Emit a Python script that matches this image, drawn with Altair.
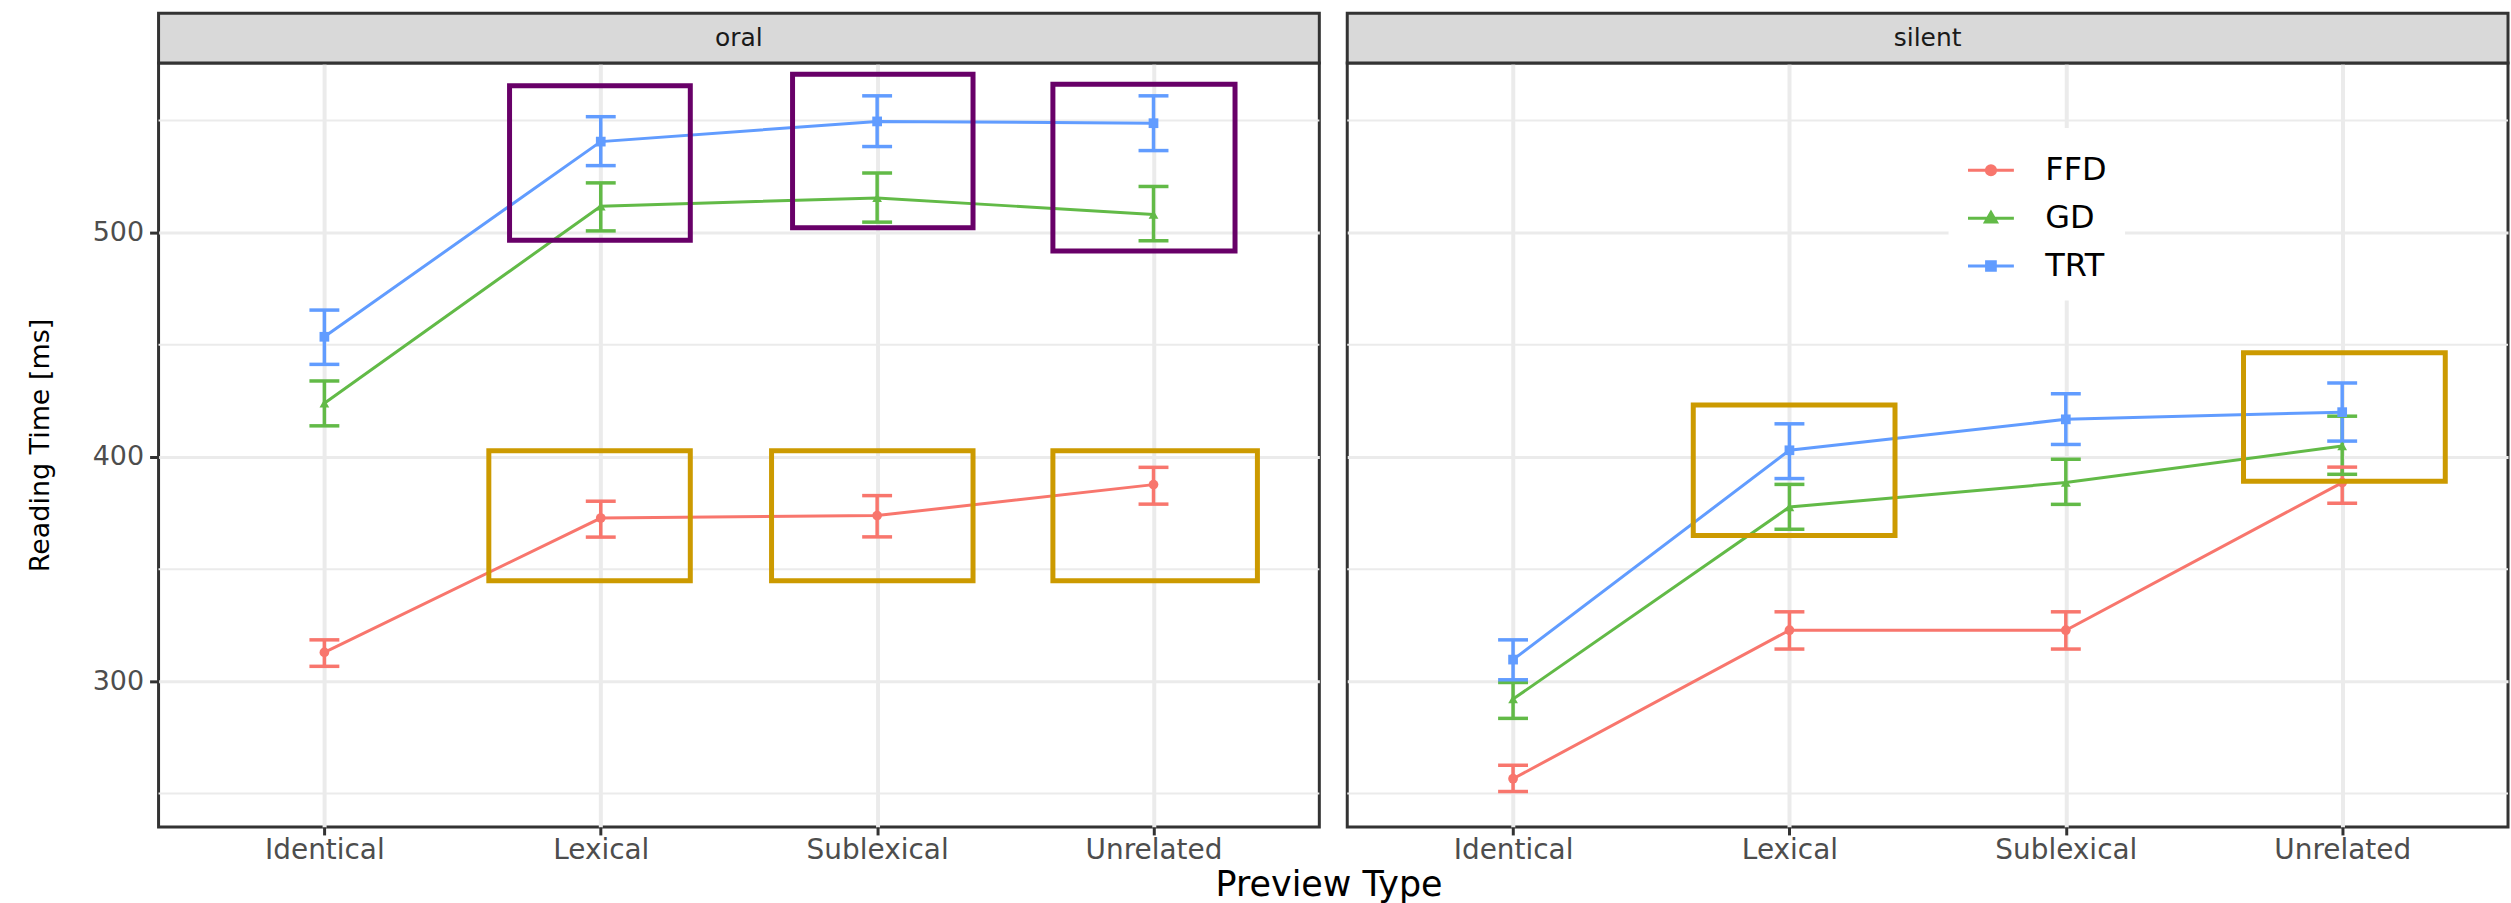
import altair as alt
import pandas as pd

FONT = "DejaVu Sans"

preview_types = ["Identical", "Lexical", "Sublexical", "Unrelated"]
panels = ["oral", "silent"]
series = ["FFD", "GD", "TRT"]
series_colors = ["#F8766D", "#62BA47", "#619CFF"]
series_shapes = ["circle", "triangle-up", "square"]

# values (ms), in order of preview_types
oral_ffd = [312.9, 372.8, 373.9, 387.7]
oral_ffd_lo = [306.7, 364.3, 364.4, 379.0]
oral_ffd_hi = [318.5, 380.3, 382.8, 395.4]
oral_gd = [424.0, 511.8, 515.5, 508.1]
oral_gd_lo = [413.9, 500.8, 504.7, 496.4]
oral_gd_hi = [433.9, 522.2, 526.6, 520.6]
oral_trt = [453.6, 540.6, 549.6, 548.8]
oral_trt_lo = [441.3, 529.9, 538.4, 536.6]
oral_trt_hi = [465.5, 551.7, 561.0, 561.0]

silent_ffd = [256.6, 322.8, 322.8, 388.6]
silent_ffd_lo = [250.9, 314.4, 314.4, 379.4]
silent_ffd_hi = [262.6, 331.0, 331.0, 395.5]
silent_gd = [292.1, 377.7, 388.6, 404.9]
silent_gd_lo = [283.5, 367.8, 378.9, 392.3]
silent_gd_hi = [299.5, 387.8, 399.0, 418.2]
silent_trt = [309.7, 403.0, 416.8, 420.0]
silent_trt_lo = [300.7, 390.4, 405.6, 407.1]
silent_trt_hi = [318.5, 414.8, 428.2, 433.0]

# highlight boxes (x in preview-type index units, y in ms)
box_panel = ["oral", "oral", "oral", "oral", "oral", "oral", "silent", "silent"]
box_group = ["A", "A", "A", "B", "B", "B", "B", "B"]
box_x1 = [0.67, 1.694, 2.636, 0.595, 1.618, 2.636, 0.652, 2.643]
box_x2 = [1.324, 2.347, 3.295, 1.324, 2.347, 3.376, 1.382, 3.373]
box_y1 = [496.6, 502.2, 491.8, 344.8, 344.8, 344.8, 365.0, 389.2]
box_y2 = [565.5, 570.6, 566.2, 402.8, 402.8, 402.8, 423.2, 446.5]
box_group_colors = {"A": "#680068", "B": "#CC9A00"}

y_major = [300, 400, 500]
y_minor = [250, 350, 450, 550]

values = {
    "oral": {"FFD": (oral_ffd, oral_ffd_lo, oral_ffd_hi),
             "GD": (oral_gd, oral_gd_lo, oral_gd_hi),
             "TRT": (oral_trt, oral_trt_lo, oral_trt_hi)},
    "silent": {"FFD": (silent_ffd, silent_ffd_lo, silent_ffd_hi),
               "GD": (silent_gd, silent_gd_lo, silent_gd_hi),
               "TRT": (silent_trt, silent_trt_lo, silent_trt_hi)},
}
rows = []
for p in panels:
    for s in series:
        m, lo, hi = values[p][s]
        for i, c in enumerate(preview_types):
            rows.append({"panel": p, "series": s, "idx": i, "preview": c,
                         "mean": m[i], "lo": lo[i], "hi": hi[i]})
df = pd.DataFrame(rows)
boxes = pd.DataFrame({"panel": box_panel, "group": box_group, "x1": box_x1,
                      "x2": box_x2, "y1": box_y1, "y2": box_y2})
minor_df = pd.DataFrame({"v": y_minor})

W, H = 1164, 766
xs = alt.Scale(domain=[-0.6, 3.6], nice=False, zero=False)
ys = alt.Scale(domain=[235.1, 575.6], nice=False, zero=False)
# colour scale for the data marks (domain listed in reverse so that it is not
# merged with the legend's fill/stroke/shape scales)
cscale = alt.Scale(domain=series[::-1], range=series_colors[::-1])
label_expr = "[" + ",".join("'%s'" % c for c in preview_types) + "][datum.value]"

legend_paths = [
    "M-1,0H1M-0.2,0A0.2,0.2,0,1,1,0.2,0A0.2,0.2,0,1,1,-0.2,0Z",
    "M-1,0H1M-0.24,0.17L0,-0.25L0.24,0.17Z",
    "M-1,0H1M-0.19,-0.19H0.19V0.19H-0.19Z",
]


def make_panel(pname, show_y, show_legend):
    d = df[df.panel == pname]
    b = boxes[boxes.panel == pname]
    x_axis = alt.Axis(values=[0, 1, 2, 3], labelExpr=label_expr, title=None,
                      grid=True, gridColor="#EBEBEB", gridWidth=4,
                      domain=False, ticks=True, tickSize=8, tickWidth=3,
                      tickColor="#333333", labelFontSize=28, labelColor="#4D4D4D",
                      labelFont=FONT, labelPadding=2)
    if show_y:
        y_axis = alt.Axis(values=y_major, title="Reading Time [ms]", grid=True,
                          gridColor="#EBEBEB", gridWidth=3, domain=False,
                          ticks=True, tickSize=9, tickWidth=3, tickColor="#333333",
                          labelFontSize=27, labelColor="#4D4D4D", labelFont=FONT,
                          labelPadding=6, titleFontSize=27, titleFont=FONT,
                          titleFontWeight="normal", titleColor="#000000",
                          titleX=-118, titleY=H / 2, titleAngle=270,
                          titleAlign="center", titleBaseline="middle")
    else:
        y_axis = alt.Axis(values=y_major, title=None, grid=True, gridColor="#EBEBEB",
                          gridWidth=3, domain=False, ticks=False, labels=False)

    def X(f):
        return alt.X(f, scale=xs, axis=x_axis)

    def Y(f):
        return alt.Y(f, scale=ys, axis=y_axis)

    minor = alt.Chart(minor_df).mark_rule(color="#EBEBEB", strokeWidth=2).encode(
        y=Y("v:Q"), x=alt.value(0), x2=alt.value(W))
    lines = alt.Chart(d).mark_line(strokeWidth=3).encode(
        x=X("idx:Q"), y=Y("mean:Q"),
        color=alt.Color("series:N", scale=cscale, legend=None),
        detail="series:N", order="idx:Q")
    bars = alt.Chart(d).mark_rule(strokeWidth=3.5).encode(
        x=X("idx:Q"), y=Y("lo:Q"), y2="hi:Q",
        color=alt.Color("series:N", scale=cscale, legend=None))
    caps = alt.Chart(d).transform_fold(["lo", "hi"], as_=["which", "yv"]).mark_tick(
        orient="horizontal", size=30, thickness=3.5, opacity=1).encode(
        x=X("idx:Q"), y=Y("yv:Q"),
        color=alt.Color("series:N", scale=cscale, legend=None))
    pts = []
    for s, shp in zip(series, series_shapes):
        pts.append(alt.Chart(d[d.series == s]).mark_point(
            filled=True, shape=shp, size=95, opacity=1).encode(
            x=X("idx:Q"), y=Y("mean:Q"),
            color=alt.Color("series:N", scale=cscale, legend=None)))
    rects = []
    for g, col in box_group_colors.items():
        bg = b[b.group == g]
        if len(bg) == 0:
            continue
        rects.append(alt.Chart(bg).mark_rect(fillOpacity=0, stroke=col,
                                             strokeWidth=5).encode(
            x=X("x1:Q"), x2="x2:Q", y=Y("y1:Q"), y2="y2:Q"))
    strip_df = pd.DataFrame({"panel": [pname]})
    strip = alt.Chart(strip_df).mark_rect(fill="#D9D9D9", stroke="#333333",
                                          strokeWidth=3).encode(
        x=alt.value(0), x2=alt.value(W), y=alt.value(-50), y2=alt.value(0))
    strip_txt = alt.Chart(strip_df).mark_text(fontSize=25, font=FONT,
                                              color="#1A1A1A").encode(
        x=alt.value(W / 2), y=alt.value(-25), text="panel:N")
    layers = [minor, lines, bars, caps] + pts + rects + [strip, strip_txt]
    if show_legend:
        lg = dict(orient="none", legendX=603, legendY=65, title=None, padding=18,
                  fillColor="#FFFFFF", labelFontSize=32, labelFont=FONT,
                  labelColor="#000000", symbolSize=2116, symbolStrokeWidth=3,
                  symbolOpacity=1, rowPadding=7, labelOffset=30)
        leg = alt.Chart(d).transform_filter("false").mark_point(
            filled=True, size=2116, opacity=1, strokeWidth=3).encode(
            x=X("idx:Q"), y=Y("mean:Q"),
            fill=alt.Fill("series:N", scale=alt.Scale(domain=series, range=series_colors),
                          legend=alt.Legend(**lg)),
            stroke=alt.Stroke("series:N", scale=alt.Scale(domain=series, range=series_colors),
                              legend=alt.Legend(**lg)),
            shape=alt.Shape("series:N", scale=alt.Scale(domain=series, range=legend_paths),
                            legend=alt.Legend(**lg)))
        layers.append(leg)
    return alt.layer(*layers).properties(width=W, height=H)


left = make_panel("oral", True, False)
right = make_panel("silent", False, True)

chart = alt.hconcat(left, right, spacing=22).resolve_scale(
    x="independent", y="independent", color="independent", fill="independent",
    stroke="independent", shape="independent"
).properties(
    title=alt.TitleParams("Preview Type", orient="bottom", anchor="middle",
                          fontSize=35, fontWeight="normal", color="#000000",
                          font=FONT, offset=2, dx=61),
    padding={"left": 25, "top": 9, "right": 0, "bottom": 0},
    background="#FFFFFF",
).configure_view(
    stroke="#333333", strokeWidth=3
)

chart.save("out.html", embed_options={"renderer": "svg", "actions": False})
